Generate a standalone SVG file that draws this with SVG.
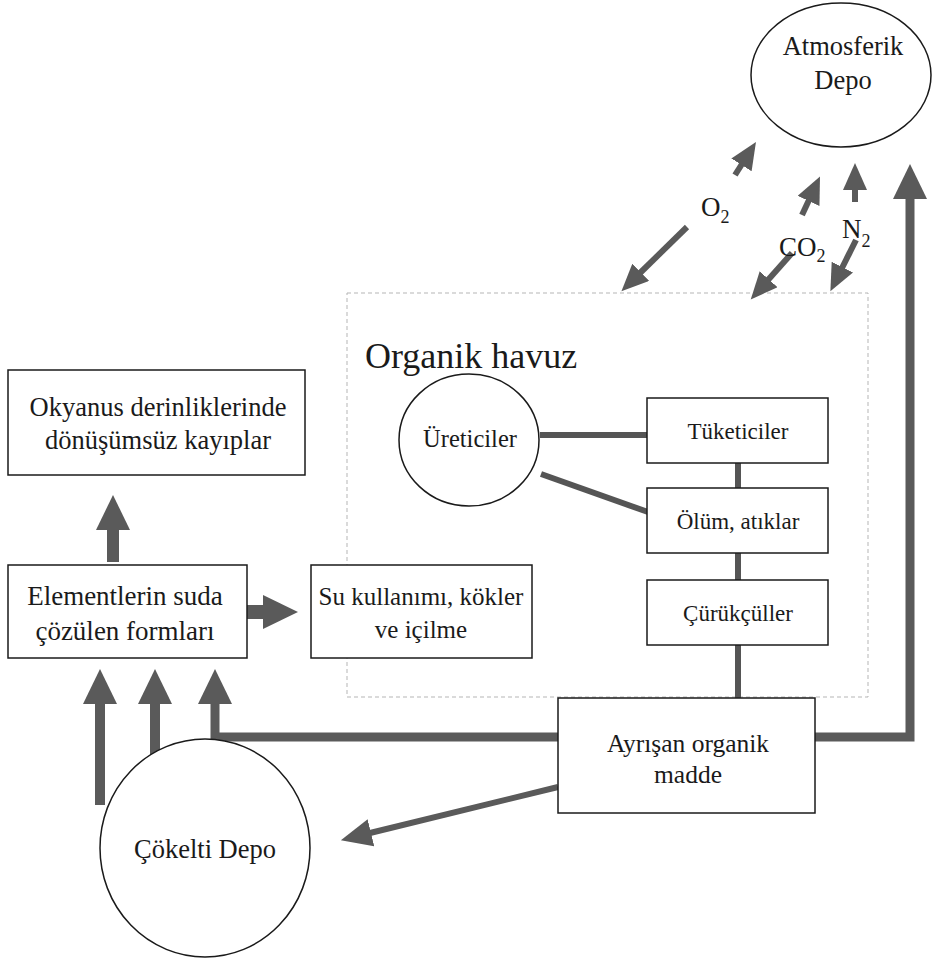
<svg xmlns="http://www.w3.org/2000/svg" width="933" height="961" viewBox="0 0 933 961">
<style>
.box{fill:#fff;stroke:#1a1a1a;stroke-width:1.5}
.pool{fill:none;stroke:#b5b5b5;stroke-width:1;stroke-dasharray:4 3}
.t{font-family:"Liberation Serif","Times New Roman",serif;fill:#1a1a1a;text-anchor:middle}
.t25{font-size:25px}
.t26{font-size:26.5px}
.t22{font-size:23px}
.link{stroke:#555;stroke-width:6;fill:none}
.arr{stroke:#5a5a5a;fill:none;stroke-linejoin:miter}
</style>
<defs>
<marker id="mBig" markerUnits="userSpaceOnUse" markerWidth="36" markerHeight="34" refX="1" refY="17" orient="auto"><path d="M0,0 L35,17 L0,34 Z" fill="#5a5a5a"/></marker>
<marker id="mMed" markerUnits="userSpaceOnUse" markerWidth="32" markerHeight="28" refX="1" refY="14" orient="auto"><path d="M0,0 L31,14 L0,28 Z" fill="#5a5a5a"/></marker>
<marker id="mSm" markerUnits="userSpaceOnUse" markerWidth="28" markerHeight="24" refX="1" refY="12" orient="auto"><path d="M0,0 L27,12 L0,24 Z" fill="#5a5a5a"/></marker>
</defs>
<rect width="933" height="961" fill="#fff"/>

<g id="organik-havuz">
<rect class="pool" x="347" y="293" width="521" height="404"/>
<text class="t" x="365" y="368" font-size="36" style="text-anchor:start">Organik havuz</text>
</g>

<g id="connectors">
<line class="link" x1="540" y1="435" x2="648" y2="435"/>
<line class="link" x1="541" y1="474" x2="648" y2="512"/>
<line class="link" x1="738" y1="462" x2="738" y2="489"/>
<line class="link" x1="738" y1="552" x2="738" y2="581"/>
<line class="link" x1="738" y1="644" x2="738" y2="699"/>
<!-- big arrows -->
<line class="arr" stroke-width="12" x1="113" y1="562" x2="113" y2="529" marker-end="url(#mBig)"/>
<line class="arr" stroke-width="14" x1="247" y1="612" x2="264" y2="612" marker-end="url(#mBig)"/>
<line class="arr" stroke-width="10" x1="100" y1="805" x2="100" y2="703" marker-end="url(#mBig)"/>
<line class="arr" stroke-width="10" x1="155" y1="768" x2="155" y2="703" marker-end="url(#mBig)"/>
<polyline class="arr" stroke-width="9" points="559,737 215,737 215,703" marker-end="url(#mBig)"/>
<polyline class="arr" stroke-width="9" points="814,737 910,737 910,198" marker-end="url(#mBig)"/>
<line class="arr" stroke-width="6" x1="558" y1="787" x2="370" y2="833" marker-end="url(#mMed)"/>
<!-- gas arrows -->
<line class="arr" stroke-width="6" x1="735" y1="175" x2="742" y2="164" marker-end="url(#mSm)"/>
<line class="arr" stroke-width="6" x1="687" y1="227" x2="640" y2="273" marker-end="url(#mSm)"/>
<line class="arr" stroke-width="6" x1="802" y1="215" x2="809" y2="200" marker-end="url(#mSm)"/>
<line class="arr" stroke-width="6" x1="792" y1="253" x2="768" y2="280" marker-end="url(#mSm)"/>
<line class="arr" stroke-width="6" x1="855" y1="202" x2="855" y2="189" marker-end="url(#mSm)"/>
<line class="arr" stroke-width="6" x1="856" y1="240" x2="842" y2="268" marker-end="url(#mSm)"/>
</g>

<g id="atmosferik-depo">
<ellipse class="box" cx="841" cy="75" rx="90" ry="72"/>
<text class="t t26" x="843" y="55">Atmosferik</text>
<text class="t t26" x="843" y="89">Depo</text>
</g>

<g id="gas-labels">
<text class="t" x="701" y="216" font-size="27" style="text-anchor:start">O<tspan font-size="18" dy="7">2</tspan></text>
<text class="t" x="779" y="256" font-size="27" style="text-anchor:start">CO<tspan font-size="18" dy="6">2</tspan></text>
<text class="t" x="842" y="238" font-size="27" style="text-anchor:start">N<tspan font-size="18" dy="9">2</tspan></text>
</g>

<g id="ureticiler">
<ellipse class="box" cx="469" cy="440" rx="70" ry="66"/>
<text class="t" font-size="24.5" x="470" y="447">Üreticiler</text>
</g>

<g id="tuketiciler">
<rect class="box" x="647" y="398" width="181" height="65"/>
<text class="t t22" x="738" y="439">Tüketiciler</text>
</g>

<g id="olum-atiklar">
<rect class="box" x="647" y="488" width="181" height="65"/>
<text class="t t22" x="738" y="529">Ölüm, atıklar</text>
</g>

<g id="curukculler">
<rect class="box" x="647" y="580" width="181" height="65"/>
<text class="t t22" x="738" y="621">Çürükçüller</text>
</g>

<g id="ayrisan">
<rect class="box" x="558" y="698" width="257" height="115"/>
<text class="t" font-size="25.5" x="688" y="752">Ayrışan organik</text>
<text class="t" font-size="25.5" x="688" y="783">madde</text>
</g>

<g id="okyanus">
<rect class="box" x="8" y="370" width="297" height="105"/>
<text class="t t26" x="158" y="416">Okyanus derinliklerinde</text>
<text class="t t26" x="158" y="449">dönüşümsüz kayıplar</text>
</g>

<g id="elementler">
<rect class="box" x="8" y="565" width="239" height="93"/>
<text class="t" font-size="27" x="125" y="605">Elementlerin suda</text>
<text class="t" font-size="27" x="125" y="640">çözülen formları</text>
</g>

<g id="su-kullanimi">
<rect class="box" x="311" y="565" width="221" height="93"/>
<text class="t t25" x="421" y="605">Su kullanımı, kökler</text>
<text class="t t25" x="421" y="638">ve içilme</text>
</g>

<g id="cokelti-depo">
<ellipse class="box" cx="205" cy="848" rx="105" ry="109"/>
<text class="t t26" x="205" y="858">Çökelti Depo</text>
</g>
</svg>
